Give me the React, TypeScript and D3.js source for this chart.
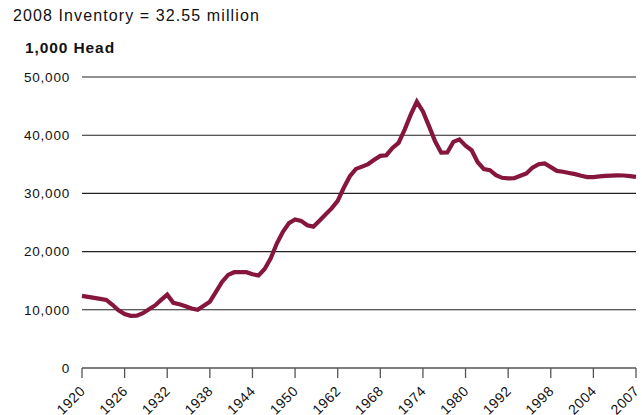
import React from 'react';
import * as d3 from 'd3';

// beef cow inventory, 1,000 head, one value per year
const years = d3.range(1920, 2012);
const inventory = [
  12400, 12220, 12050, 11880, 11690, 10860, 9920, 9270, 8970, 9000,
  9410, 10110, 10750, 11700, 12600, 11200, 10940, 10600, 10220, 10000,
  10700, 11400, 13070, 14780, 16000, 16460, 16460, 16460, 16100, 15900,
  17000, 18850, 21380, 23400, 24900, 25510, 25280, 24540, 24290, 25320,
  26360, 27420, 28730, 30970, 32950, 34210, 34600, 35040, 35780, 36450,
  36560, 37810, 38680, 40960, 43540, 45750, 44080, 41560, 38960, 37000,
  37040, 38860, 39280, 38210, 37420, 35350, 34200, 34000, 33140, 32680,
  32570, 32630, 33030, 33410, 34430, 35020, 35140, 34520, 33870, 33720,
  33510, 33310, 33020, 32810, 32800, 32920, 33000, 33060, 33110, 33080,
  32970, 32850,
];

const xTickLabels = ['1920', '1926', '1932', '1938', '1944', '1950', '1962', '1968', '1974', '1980', '1992', '1998', '2004', '2007'];
const yTicks = [0, 10000, 20000, 30000, 40000, 50000];

const title = '2008 Inventory = 32.55 million';
const unitLabel = '1,000 Head';

const W = 642;
const H = 415;
const margin = { left: 82, right: 6, top: 77, bottom: 47 };

const lineColor = '#86163c';
const font = '"Liberation Sans", Arial, sans-serif';

export default function App() {
  const x = d3.scaleLinear()
    .domain([years[0], years[years.length - 1]])
    .range([margin.left, W - margin.right]);
  const xLab = d3.scalePoint<string>()
    .domain(xTickLabels)
    .range([margin.left, W - margin.right]);
  const y = d3.scaleLinear()
    .domain([0, 50000])
    .range([H - margin.bottom, margin.top]);

  const line = d3.line<number>()
    .x((_, i) => x(years[i]))
    .y(d => y(d))
    .curve(d3.curveLinear);

  const fmt = d3.format(',');
  const y0 = y(0);

  return (
    <svg width={W} height={H} style={{ position: 'absolute', left: 0, top: 0, background: '#fff' }}>
      <text x={13} y={21} fontFamily={font} fontSize={16} letterSpacing={1.1} fill="#111">{title}</text>
      <text x={25} y={53} fontFamily={font} fontSize={15.5} fontWeight="bold" letterSpacing={0.9} fill="#111">{unitLabel}</text>

      {/* grid + y labels */}
      {yTicks.map(t => (
        <g key={t}>
          {t > 0 && (
            <line x1={margin.left} x2={W - margin.right} y1={y(t)} y2={y(t)} stroke="#222" strokeWidth={1.1} />
          )}
          <text x={70} y={y(t)} dy="0.36em" textAnchor="end" fontFamily={font} fontSize={13.5} letterSpacing={0.8} fill="#111">
            {fmt(t)}
          </text>
        </g>
      ))}

      {/* x axis */}
      <line x1={margin.left} x2={W - margin.right} y1={y0} y2={y0} stroke="#555" strokeWidth={1.3} />
      {xTickLabels.map(l => {
        const px = xLab(l) as number;
        return (
          <g key={l}>
            <line x1={px} x2={px} y1={y0} y2={y0 + 10} stroke="#555" strokeWidth={1.3} />
            <text
              transform={`translate(${px + 4},${y0 + 24}) rotate(-45)`}
              textAnchor="end"
              fontFamily={font}
              fontSize={14}
              letterSpacing={0.5}
              fill="#111"
            >
              {l}
            </text>
          </g>
        );
      })}

      <path d={line(inventory) || ''} fill="none" stroke={lineColor} strokeWidth={4.2} strokeLinejoin="miter" strokeLinecap="butt" />
    </svg>
  );
}
